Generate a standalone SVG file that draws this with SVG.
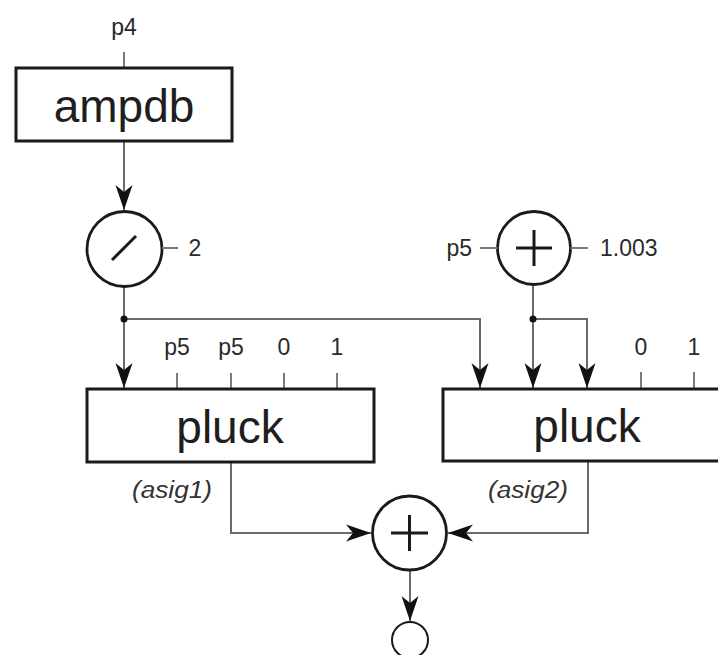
<svg xmlns="http://www.w3.org/2000/svg" width="718" height="655" viewBox="0 0 718 655">
<style>
.box{fill:#fff;stroke:#1a1a1a;stroke-width:3}
.op{fill:#fff;stroke:#1a1a1a;stroke-width:2.8}
.big{font-family:"Liberation Sans",Arial,sans-serif;font-size:46px;fill:#1e1e1e;text-anchor:middle}
.lbl{font-family:"Liberation Sans",Arial,sans-serif;font-size:23px;fill:#2a2a2a;text-anchor:middle}
.it{font-family:"Liberation Sans",Arial,sans-serif;font-size:23px;font-style:italic;fill:#333;text-anchor:middle}
.wire{fill:none;stroke:#6a6a6a;stroke-width:2}
.tick{stroke:#7a7a7a;stroke-width:2}
.sym{stroke:#1a1a1a;stroke-width:3;fill:none}
</style>
<defs>
<marker id="arr" viewBox="-26 -10 28 20" markerWidth="28" markerHeight="20" refX="0" refY="0" orient="auto" markerUnits="userSpaceOnUse">
<path d="M0,0 L-25,-8.5 L-18,0 L-25,8.5 Z" fill="#111"/>
</marker>
</defs>
<g id="connectors">
<path class="wire" d="M124,141 V210" marker-end="url(#arr)"/>
<path class="wire" d="M124,287 V388" marker-end="url(#arr)"/>
<path class="wire" d="M124,319 H480 V388" marker-end="url(#arr)"/>
<path class="wire" d="M533,285 V388" marker-end="url(#arr)"/>
<path class="wire" d="M533,319 H587 V388" marker-end="url(#arr)"/>
<path class="wire" d="M231,462 V533 H371" marker-end="url(#arr)"/>
<path class="wire" d="M588,461 V533 H448" marker-end="url(#arr)"/>
<path class="wire" d="M410,570 V621" marker-end="url(#arr)"/>
<circle cx="124" cy="319" r="3.5" fill="#111"/>
<circle cx="533" cy="319" r="3.5" fill="#111"/>
</g>
<g id="ampdb">
<text class="lbl" x="124" y="35">p4</text>
<line class="tick" x1="124" y1="52" x2="124" y2="68"/>
<rect class="box" x="16" y="68" width="216" height="73"/>
<text class="big" x="124" y="122">ampdb</text>
</g>
<g id="divide">
<circle class="op" cx="124.5" cy="249" r="37.5"/>
<line class="sym" x1="112" y1="260" x2="136" y2="236"/>
<line class="tick" x1="162" y1="248" x2="178" y2="248"/>
<text class="lbl" x="195" y="256">2</text>
</g>
<g id="add1">
<circle class="op" cx="534" cy="248" r="36.5"/>
<line class="sym" x1="516" y1="248" x2="552" y2="248"/>
<line class="sym" x1="534" y1="230" x2="534" y2="266"/>
<line class="tick" x1="480" y1="248" x2="497.5" y2="248"/>
<line class="tick" x1="570.5" y1="248" x2="588" y2="248"/>
<text class="lbl" x="472" y="256" style="text-anchor:end">p5</text>
<text class="lbl" x="600" y="256" style="text-anchor:start">1.003</text>
</g>
<g id="pluck1">
<line class="tick" x1="177" y1="373" x2="177" y2="389"/>
<line class="tick" x1="231" y1="373" x2="231" y2="389"/>
<line class="tick" x1="284" y1="373" x2="284" y2="389"/>
<line class="tick" x1="337" y1="373" x2="337" y2="389"/>
<text class="lbl" x="177" y="355">p5</text>
<text class="lbl" x="231" y="355">p5</text>
<text class="lbl" x="284" y="355">0</text>
<text class="lbl" x="337" y="355">1</text>
<rect class="box" x="87" y="389" width="287" height="73"/>
<text class="big" x="230" y="443">pluck</text>
<text class="it" x="172" y="498" textLength="80" lengthAdjust="spacingAndGlyphs">(asig1)</text>
</g>
<g id="pluck2">
<line class="tick" x1="641" y1="372" x2="641" y2="389"/>
<line class="tick" x1="694" y1="372" x2="694" y2="389"/>
<text class="lbl" x="641" y="355">0</text>
<text class="lbl" x="694" y="355">1</text>
<rect class="box" x="443" y="389" width="290" height="72"/>
<text class="big" x="587" y="442">pluck</text>
<text class="it" x="528" y="498" textLength="80" lengthAdjust="spacingAndGlyphs">(asig2)</text>
</g>
<g id="add2">
<circle class="op" cx="409.5" cy="533" r="37"/>
<line class="sym" x1="391" y1="533" x2="428" y2="533"/>
<line class="sym" x1="409.5" y1="515" x2="409.5" y2="551"/>
</g>
<g id="out">
<circle cx="410" cy="640" r="18" fill="#fff" stroke="#1a1a1a" stroke-width="2"/>
</g>
</svg>
